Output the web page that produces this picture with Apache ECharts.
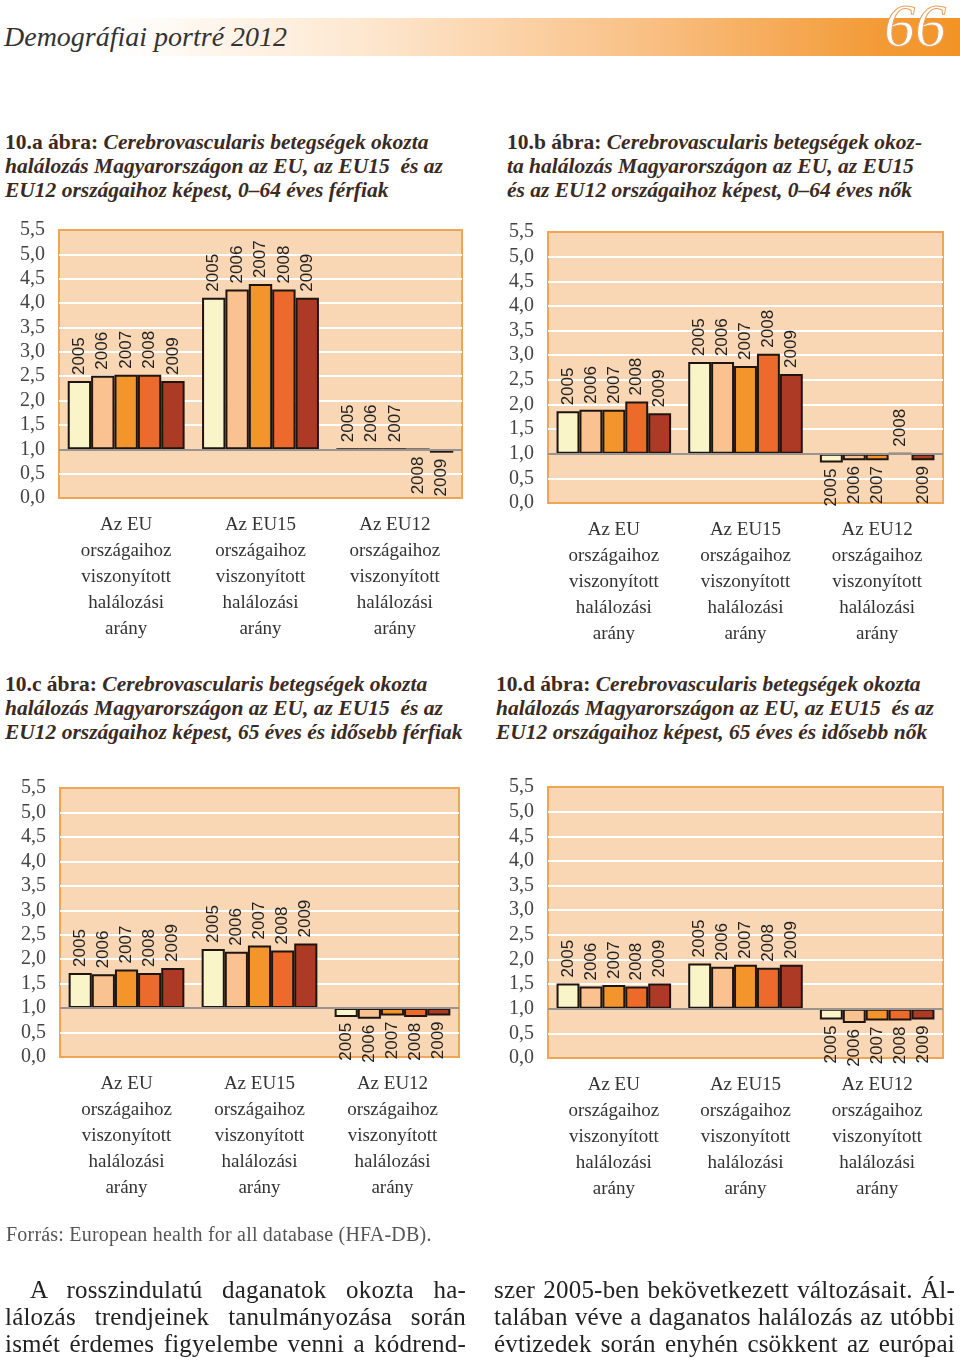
<!DOCTYPE html>
<html>
<head>
<meta charset="utf-8">
<script src="https://cdn.jsdelivr.net/npm/echarts@6/dist/echarts.min.js"></script>
<style>
  html, body { margin: 0; padding: 0; background: #fff; }
  #page { position: relative; width: 960px; height: 1360px; overflow: hidden; }
  #chart { position: absolute; left: 0; top: 0; width: 960px; height: 1360px; }
  .txt { position: absolute; font-family: "Liberation Serif", "DejaVu Serif", serif; color: #3a2a22; white-space: nowrap; }
  .band { position: absolute; left: 0; top: 18px; width: 960px; height: 38px;
    background: linear-gradient(to right, #ffffff 0%, #ffffff 12%, #fde7cf 38%, #f9bf82 68%, #f39a35 92%, #f39325 100%); }
  .hdr { left: 4px; top: 18px; font-size: 28px; font-style: italic; color: #333; line-height: 38px; }
  .num { right: 14px; top: -6px; font-size: 62px; font-style: italic; color: #fff; -webkit-text-stroke: 1px #e7a15c; line-height: 62px; }
  .ttl { font-size: 21.5px; font-weight: bold; line-height: 24px; color: #3a2a22; letter-spacing: 0; }
  .ttl i { font-style: italic; }
  .src { left: 6px; top: 1221px; font-size: 20px; color: #555; line-height: 26px; letter-spacing: 0.2px; }
  .body { font-size: 25px; line-height: 27px; color: #222; letter-spacing: 0.2px; }
  .body div { text-align: justify; text-align-last: justify; white-space: nowrap; }
</style>
</head>
<body>
<div id="page">
  <div class="band"></div>
  <div class="txt hdr">Demográfiai portré 2012</div>
  <div class="txt num">66</div>

  <div class="txt ttl" style="left:5px; top:130px;">10.a ábra: <i>Cerebrovascularis betegségek okozta<br>halálozás Magyarországon az EU, az EU15&nbsp; és az<br>EU12 országaihoz képest, 0–64 éves férfiak</i></div>
  <div class="txt ttl" style="left:507px; top:130px;">10.b ábra: <i>Cerebrovascularis betegségek okoz-<br>ta halálozás Magyarországon az EU, az EU15<br>és az EU12 országaihoz képest, 0–64 éves nők</i></div>
  <div class="txt ttl" style="left:5px; top:672px;">10.c ábra: <i>Cerebrovascularis betegségek okozta<br>halálozás Magyarországon az EU, az EU15&nbsp; és az<br>EU12 országaihoz képest, 65 éves és idősebb férfiak</i></div>
  <div class="txt ttl" style="left:496px; top:672px;">10.d ábra: <i>Cerebrovascularis betegségek okozta<br>halálozás Magyarországon az EU, az EU15&nbsp; és az<br>EU12 országaihoz képest, 65 éves és idősebb nők</i></div>

  <div id="chart"></div>

  <div class="txt src">Forrás: European health for all database (HFA-DB).</div>

  <div class="txt body" style="left:5px; top:1276px; width:461px;">
    <div style="padding-left:25px;">A rosszindulatú daganatok okozta ha-</div>
    <div>lálozás trendjeinek tanulmányozása során</div>
    <div>ismét érdemes figyelembe venni a kódrend-</div>
  </div>
  <div class="txt body" style="left:494px; top:1276px; width:461px;">
    <div>szer 2005-ben bekövetkezett változásait. Ál-</div>
    <div>talában véve a daganatos halálozás az utóbbi</div>
    <div>évtizedek során enyhén csökkent az európai</div>
  </div>
</div>
<script>
// ---- data ----
const categories = [
  'Az EU\nországaihoz\nviszonyított\nhalálozási\narány',
  'Az EU15\nországaihoz\nviszonyított\nhalálozási\narány',
  'Az EU12\nországaihoz\nviszonyított\nhalálozási\narány'
];
const years = ['2005', '2006', '2007', '2008', '2009'];
const yTicks = ['0,0','0,5','1,0','1,5','2,0','2,5','3,0','3,5','4,0','4,5','5,0','5,5'];

// 10.a  0–64 éves férfiak (values per year 2005..2009)
const a_EU   = [2.40, 2.51, 2.53, 2.53, 2.40];
const a_EU15 = [4.11, 4.28, 4.39, 4.28, 4.11];
const a_EU12 = [1.00, 1.00, 1.00, 0.99, 0.93];
// 10.b  0–64 éves nők
const b_EU   = [1.86, 1.89, 1.89, 2.06, 1.82];
const b_EU15 = [2.86, 2.86, 2.78, 3.03, 2.62];
const b_EU12 = [0.82, 0.87, 0.87, 1.00, 0.87];
// 10.c  65 éves és idősebb férfiak
const c_EU   = [1.72, 1.69, 1.79, 1.72, 1.82];
const c_EU15 = [2.21, 2.15, 2.28, 2.18, 2.32];
const c_EU12 = [0.82, 0.78, 0.85, 0.82, 0.85];
// 10.d  65 éves és idősebb nők
const d_EU   = [1.51, 1.45, 1.48, 1.45, 1.51];
const d_EU15 = [1.92, 1.85, 1.89, 1.83, 1.89];
const d_EU12 = [0.78, 0.71, 0.76, 0.76, 0.78];

const yearColors = ['#faf5c8', '#fac291', '#f4952c', '#ec6b2c', '#ad3a25'];

const panels = [
  { groups: [a_EU, a_EU15, a_EU12], grid: { left: 59, top: 230, width: 403, height: 268 } },
  { groups: [b_EU, b_EU15, b_EU12], grid: { left: 548, top: 232, width: 395, height: 271 } },
  { groups: [c_EU, c_EU15, c_EU12], grid: { left: 60, top: 788, width: 399, height: 269 } },
  { groups: [d_EU, d_EU15, d_EU12], grid: { left: 548, top: 787, width: 395, height: 271 } }
];

const BASE = 1; // ratio baseline
const serif = '"Liberation Serif", "DejaVu Serif", serif';

const grids = [], xAxes = [], yAxes = [], series = [];
panels.forEach((p, k) => {
  grids.push(Object.assign({
    show: true, backgroundColor: '#f9d7b4', borderColor: '#efa553', borderWidth: 2
  }, p.grid));
  xAxes.push({
    type: 'category', gridIndex: k, data: categories,
    axisLine: { show: false }, axisTick: { show: false }, splitLine: { show: false },
    axisLabel: { interval: 0, margin: 14, fontFamily: serif, fontSize: 19, lineHeight: 26, color: '#333' }
  });
  yAxes.push({
    type: 'value', gridIndex: k, min: 0 - BASE, max: 5.5 - BASE, interval: 0.5,
    axisLine: { show: false }, axisTick: { show: false },
    splitLine: { showMinLine: false, showMaxLine: false, lineStyle: { color: '#ffffff', width: 2 } },
    axisLabel: {
      margin: 14, fontFamily: serif, fontSize: 20, color: '#444',
      formatter: v => yTicks[Math.round((v + BASE) * 2)]
    }
  });
  years.forEach((yr, j) => {
    const s = {
      type: 'bar', name: yr, xAxisIndex: k, yAxisIndex: k,
      barGap: '0%', barCategoryGap: '13%',
      itemStyle: { color: yearColors[j], borderColor: '#1e1410', borderWidth: 2 },
      data: p.groups.map(g => {
        const v = g[j];
        const up = v >= BASE;
        return {
          value: +(v - BASE).toFixed(3),
          label: {
            show: true, formatter: yr, rotate: 90,
            position: up ? 'top' : 'bottom', distance: 6,
            align: up ? 'left' : 'right', verticalAlign: 'middle',
            fontFamily: '"Liberation Sans", Arial, sans-serif', fontSize: 17, color: '#222'
          }
        };
      })
    };
    if (j === 0) {
      s.markLine = {
        silent: true, symbol: 'none', animation: false,
        label: { show: false },
        lineStyle: { color: '#9a9490', width: 2, type: 'solid' },
        data: [{ yAxis: 0 }]
      };
    }
    series.push(s);
  });
});

const chart = echarts.init(document.getElementById('chart'), null, { renderer: 'canvas' });
chart.setOption({
  animation: false,
  backgroundColor: 'transparent',
  grid: grids, xAxis: xAxes, yAxis: yAxes, series: series
});
</script>
</body>
</html>
